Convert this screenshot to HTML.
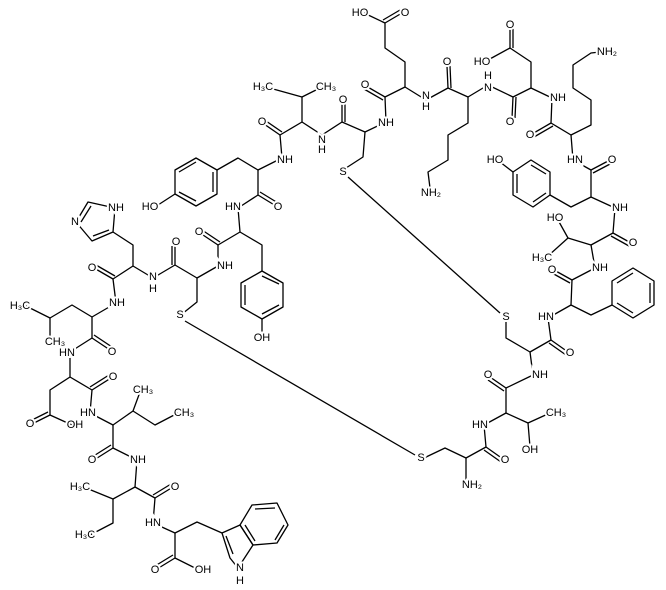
<!DOCTYPE html>
<html><head><meta charset="utf-8"><style>
html,body{margin:0;padding:0;background:#fff;}
svg{display:block}
text{font-family:"Liberation Sans",sans-serif;font-size:11px;fill:#000;stroke:#fff;stroke-width:4px;paint-order:stroke;text-anchor:middle;dominant-baseline:central}
</style></head><body>
<svg width="666" height="590" viewBox="0 0 666 590" xmlns="http://www.w3.org/2000/svg">
<g fill="none" stroke="#000" stroke-width="1.3" stroke-linejoin="round">
<polyline points="266,87 302,97 322,87"/>
<polyline points="302,97 302,122 280,135 264,124"/>
<polyline points="302,122 322,135 342,122 342,102"/>
<polyline points="280,135 282,158 258,170 238,158 217,170"/>
<polygon points="217,170 217,194 196,206 175,194 175,170 196,158"/>
<line x1="175" y1="194" x2="158" y2="205"/>
<polyline points="258,170 258,195 276,206"/>
<polyline points="258,195 238,208 240,232 218,245 200,233"/>
<polyline points="240,232 262,245 262,271"/>
<polygon points="262,271 283,283 283,307 262,319 241,307 241,283"/>
<line x1="262" y1="319" x2="262" y2="332"/>
<polyline points="218,245 218,266 197,278 197,302 182,314"/>
<polyline points="197,278 175,265 175,246"/>
<polyline points="175,265 153,278 133,266 133,245 113,232"/>
<polygon points="113,232 115,208 88,202 76,222 92,241"/>
<polyline points="133,266 113,279 94,268"/>
<polyline points="113,279 116,303 92,317 72,305 50,318 26,306"/>
<line x1="50" y1="318" x2="50" y2="338"/>
<polyline points="92,317 92,338 110,350"/>
<polyline points="92,338 70,352 70,377 50,390 50,415 32,424"/>
<line x1="50" y1="415" x2="72" y2="425"/>
<polyline points="70,377 92,390 111,378"/>
<polyline points="92,390 90,413 113,425 133,411 140,392"/>
<polyline points="133,411 155,425 178,413"/>
<polyline points="113,425 113,448 94,460"/>
<polyline points="113,448 137,460 135,487 113,499 86,488"/>
<polyline points="113,499 113,523 90,535"/>
<polyline points="135,487 155,498 173,487"/>
<polyline points="155,498 153,523 175,533 197,522 222,533"/>
<polyline points="175,533 175,558 157,569"/>
<line x1="175" y1="558" x2="197" y2="569"/>
<polygon points="222,533 240,525 253,545 238,568 230,558"/>
<polygon points="240,525 252,505 277,503 288,525 277,543 253,545"/>
<line x1="185" y1="321" x2="415" y2="455"/>
<line x1="348" y1="177" x2="500" y2="313"/>
<polyline points="342,122 365,132 363,157 346,168"/>
<polyline points="365,132 386,122 385,97 366,86"/>
<polyline points="385,97 405,87 405,62 385,48 385,23 402,13"/>
<line x1="385" y1="23" x2="364" y2="13"/>
<polyline points="405,87 426,100 448,88 447,66"/>
<polyline points="448,88 468,97 468,123 448,135 448,160 428,172 430,188"/>
<polyline points="468,97 488,85 513,97 512,118"/>
<polyline points="513,97 531,88 531,62 510,48 510,28"/>
<line x1="510" y1="48" x2="488" y2="60"/>
<polyline points="531,88 552,98 551,123 532,134"/>
<polyline points="551,123 571,135 591,125 591,100 573,88 573,65 591,53 600,52"/>
<polyline points="571,135 573,160 591,170 610,160"/>
<polyline points="591,170 591,197 571,207 550,195"/>
<polygon points="531,160 550,172 550,195 533,207 513,195 513,172"/>
<line x1="513" y1="172" x2="500" y2="162"/>
<polyline points="591,197 615,208 613,233 631,243"/>
<polyline points="613,233 591,245 568,238 558,220"/>
<line x1="568" y1="238" x2="548" y2="256"/>
<polyline points="591,245 595,268 572,280 554,270"/>
<polyline points="572,280 571,305 591,315 612,305"/>
<polygon points="612,305 633,318 654,305 654,281 633,268 612,281"/>
<polyline points="571,305 548,318 551,340 568,352"/>
<polyline points="551,340 530,352 506,338 506,320"/>
<polyline points="530,352 533,375 506,388 490,377"/>
<polyline points="506,388 506,413 528,423 550,413"/>
<line x1="528" y1="423" x2="530" y2="447"/>
<polyline points="506,413 484,425 486,447 503,459"/>
<polyline points="486,447 466,458 445,448 424,458"/>
<line x1="466" y1="458" x2="466" y2="482"/>
<!-- aromatic inner bonds -->
<line x1="213" y1="172" x2="213" y2="192"/><line x1="196" y1="201" x2="179" y2="192"/><line x1="179" y1="172" x2="196" y2="162"/>
<line x1="262" y1="276" x2="279" y2="284"/><line x1="279" y1="305" x2="262" y2="314"/><line x1="245" y1="305" x2="245" y2="285"/>
<line x1="531" y1="165" x2="546" y2="174"/><line x1="546" y1="193" x2="533" y2="202"/><line x1="517" y1="193" x2="517" y2="174"/>
<line x1="617" y1="303" x2="633" y2="313"/><line x1="650" y1="303" x2="650" y2="283"/><line x1="633" y1="273" x2="617" y2="283"/>
<line x1="255" y1="509" x2="275" y2="508"/><line x1="284" y1="525" x2="275" y2="540"/><line x1="255" y1="541" x2="245" y2="525"/>
<line x1="226" y1="536" x2="233" y2="554"/>
<line x1="91" y1="206" x2="81" y2="222"/><line x1="93" y1="236" x2="109" y2="230"/>
<!-- C=O second lines -->
<line x1="282" y1="132" x2="266" y2="121"/><line x1="345" y1="122" x2="345" y2="102"/>
<line x1="260" y1="192" x2="278" y2="203"/><line x1="220" y1="242" x2="202" y2="230"/>
<line x1="172" y1="265" x2="172" y2="246"/><line x1="115" y1="276" x2="96" y2="265"/>
<line x1="94" y1="335" x2="112" y2="347"/><line x1="48" y1="412" x2="30" y2="421"/>
<line x1="90" y1="387" x2="109" y2="375"/><line x1="111" y1="445" x2="92" y2="457"/>
<line x1="153" y1="495" x2="171" y2="484"/><line x1="173" y1="555" x2="155" y2="566"/>
<line x1="383" y1="100" x2="364" y2="89"/><line x1="383" y1="20" x2="400" y2="10"/>
<line x1="451" y1="88" x2="450" y2="66"/><line x1="516" y1="97" x2="515" y2="118"/>
<line x1="513" y1="48" x2="513" y2="28"/><line x1="553" y1="126" x2="534" y2="137"/>
<line x1="593" y1="173" x2="612" y2="163"/><line x1="611" y1="236" x2="629" y2="246"/>
<line x1="570" y1="283" x2="552" y2="273"/><line x1="549" y1="343" x2="566" y2="355"/>
<line x1="504" y1="391" x2="488" y2="380"/><line x1="484" y1="450" x2="501" y2="462"/>
</g>
<g>
<text x="263" y="87">H₃C</text><text x="326" y="87">CH₃</text>
<text x="262" y="122">O</text><text x="322" y="140">N</text><text x="322" y="150">H</text>
<text x="285" y="160">NH</text><text x="150" y="207">HO</text>
<text x="278" y="207">O</text><text x="233" y="207">HN</text>
<text x="199" y="232">O</text><text x="262" y="338">OH</text>
<text x="225" y="266">NH</text><text x="180" y="315">S</text>
<text x="176" y="242">O</text><text x="153" y="277">N</text><text x="153" y="289">H</text>
<text x="116" y="208">NH</text><text x="75" y="222">N</text>
<text x="92" y="268">O</text><text x="117" y="303">NH</text>
<text x="20" y="306">H₃C</text><text x="55" y="342">CH₃</text>
<text x="112" y="352">O</text><text x="67" y="353">HN</text>
<text x="30" y="424">O</text><text x="75" y="425">OH</text>
<text x="113" y="377">O</text><text x="88" y="413">HN</text>
<text x="143" y="390">CH₃</text><text x="184" y="413">CH₃</text>
<text x="92" y="460">O</text><text x="138" y="460">NH</text>
<text x="80" y="487">H₃C</text><text x="85" y="535">H₃C</text>
<text x="175" y="487">O</text><text x="153" y="523">HN</text>
<text x="155" y="570">O</text><text x="203" y="570">OH</text>
<text x="240" y="568">N</text><text x="240" y="581">H</text>
<text x="343" y="172">S</text><text x="343" y="100">O</text>
<text x="386" y="123">NH</text><text x="365" y="85">O</text>
<text x="405" y="13">O</text><text x="360" y="13">HO</text>
<text x="426" y="96">N</text><text x="426" y="107">H</text>
<text x="447" y="62">O</text><text x="431" y="193">NH₂</text>
<text x="488" y="76">H</text><text x="488" y="88">N</text>
<text x="510" y="122">O</text><text x="510" y="25">O</text><text x="482" y="62">HO</text>
<text x="558" y="98">NH</text><text x="530" y="135">O</text>
<text x="607" y="52">NH₂</text><text x="575" y="160">HN</text>
<text x="612" y="160">O</text><text x="495" y="160">HO</text>
<text x="620" y="208">NH</text><text x="633" y="243">O</text>
<text x="555" y="218">HO</text><text x="542" y="258">H₃C</text>
<text x="600" y="268">NH</text><text x="552" y="270">O</text>
<text x="546" y="317">HN</text><text x="570" y="353">O</text>
<text x="506" y="317">S</text><text x="540" y="375">NH</text>
<text x="488" y="375">O</text><text x="556" y="413">CH₃</text>
<text x="530" y="450">OH</text><text x="480" y="425">HN</text>
<text x="505" y="460">O</text><text x="421" y="458">S</text>
<text x="472" y="485">NH₂</text>
</g>
</svg>
</body></html>
